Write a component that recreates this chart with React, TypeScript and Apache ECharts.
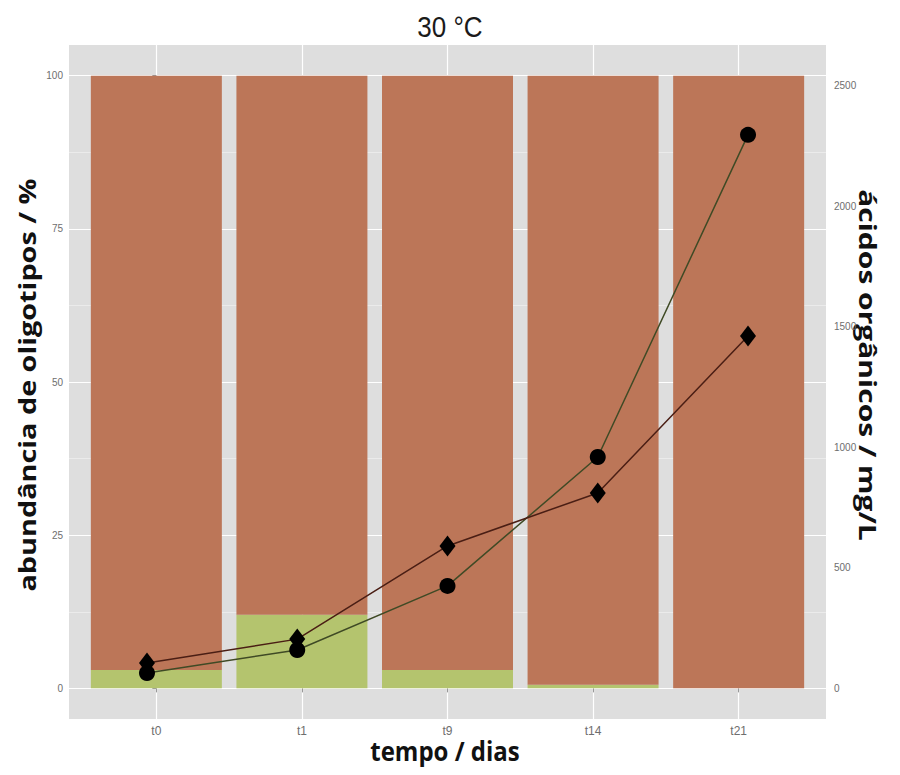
import React, { useEffect, useRef } from "react";
import * as echarts from "echarts";

const categories = ["t0", "t1", "t9", "t14", "t21"];
const greenShare = [3, 12, 3, 0.6, 0];
const brownShare = [97, 88, 97, 99.4, 100];
const acidCircle = [62, 158, 424, 959, 2297];
const acidDiamond = [104, 203, 590, 810, 1462];
const leftTicks = [0, 25, 50, 75, 100];
const leftMinor = [12.5, 37.5, 62.5, 87.5];
const rightTicks = [0, 500, 1000, 1500, 2000, 2500];

export default function App() {
  const ref = useRef<HTMLDivElement>(null);
  useEffect(() => {
    const chart = echarts.init(ref.current!, null, { renderer: "svg" });
    const idx = categories.map((_, i) => i);
    const labelStyle = { color: "#6e6e6e", fontSize: 10, fontFamily: "Liberation Sans" };
    const boldFont = "bold 24px 'Open Sans'";
    chart.setOption({
      animation: false,
      backgroundColor: "#ffffff",
      grid: {
        left: 69,
        right: 74,
        top: 45,
        bottom: 56,
        show: true,
        backgroundColor: "#DEDEDE",
        borderWidth: 0,
      },
      xAxis: [
        {
          type: "value",
          min: -0.6,
          max: 4.6,
          axisLine: { show: false },
          axisTick: { show: true, customValues: idx, length: 4, lineStyle: { color: "#999" } },
          axisLabel: {
            customValues: idx,
            formatter: (v: number) => categories[Math.round(v)],
            ...labelStyle,
            fontSize: 12,
            margin: 6,
          },
          splitLine: { show: true, lineStyle: { color: "#ffffff", width: 1.2 } },
        },
        { type: "value", min: -0.519, max: 4.519, show: false },
      ],
      yAxis: [
        {
          type: "value",
          min: -5,
          max: 105,
          position: "left",
          axisLine: { show: false },
          axisTick: { show: true, customValues: leftTicks, length: 4, lineStyle: { color: "#999" } },
          axisLabel: { customValues: leftTicks, ...labelStyle, margin: 6 },
          splitLine: { show: true, lineStyle: { color: "#ffffff", width: 1.2 } },
        },
        {
          type: "value",
          min: -128.7,
          max: 2670,
          position: "right",
          axisLine: { show: false },
          axisTick: { show: false, customValues: rightTicks },
          axisLabel: {
            customValues: rightTicks,
            formatter: (v: number) => String(v),
            ...labelStyle,
            margin: 8,
          },
          splitLine: { show: false },
        },
        {
          type: "value",
          min: -5,
          max: 105,
          position: "left",
          axisLine: { show: false },
          axisTick: { show: false, customValues: leftMinor },
          axisLabel: { show: false },
          splitLine: { show: true, lineStyle: { color: "#f4f4f4", width: 0.6 } },
        },
      ],
      series: [
        {
          type: "bar",
          name: "green",
          xAxisIndex: 0,
          yAxisIndex: 0,
          stack: "share",
          barWidth: 131,
          encode: { x: 1, y: 0 },
          data: greenShare.map((v, i) => [v, i]),
          itemStyle: { color: "#B4C46E" },
          silent: true,
        },
        {
          type: "bar",
          name: "brown",
          xAxisIndex: 0,
          yAxisIndex: 0,
          stack: "share",
          barWidth: 131,
          encode: { x: 1, y: 0 },
          data: brownShare.map((v, i) => [v, i]),
          itemStyle: { color: "#BC7658" },
          silent: true,
        },
        {
          type: "line",
          name: "circle",
          xAxisIndex: 1,
          yAxisIndex: 1,
          data: acidCircle.map((v, i) => [i, v]),
          symbol: "circle",
          symbolSize: 16,
          itemStyle: { color: "#000000" },
          lineStyle: { color: "#3f4a25", width: 1.5 },
          z: 5,
          silent: true,
        },
        {
          type: "line",
          name: "diamond",
          xAxisIndex: 1,
          yAxisIndex: 1,
          data: acidDiamond.map((v, i) => [i, v]),
          symbol: "diamond",
          symbolSize: [16, 21],
          itemStyle: { color: "#000000" },
          lineStyle: { color: "#4a1e14", width: 1.5 },
          z: 6,
          silent: true,
        },
      ],
      graphic: [
        {
          type: "text",
          x: 450,
          y: 27,
          scaleY: 1.15,
          style: {
            text: "30 °C",
            font: "26px 'Liberation Sans'",
            fill: "#1a1a1a",
            align: "center",
            verticalAlign: "middle",
          },
        },
        {
          type: "text",
          x: 27,
          y: 385,
          rotation: Math.PI / 2,
          scaleX: 1.2,
          style: {
            text: "abundância de oligotipos / %",
            font: boldFont,
            fill: "#111",
            align: "center",
            verticalAlign: "middle",
          },
        },
        {
          type: "text",
          x: 868,
          y: 365,
          rotation: -Math.PI / 2,
          scaleX: 1.25,
          style: {
            text: "ácidos orgânicos / mg/L",
            font: boldFont,
            fill: "#111",
            align: "center",
            verticalAlign: "middle",
          },
        },
        {
          type: "text",
          x: 445,
          y: 751,
          scaleY: 1.1,
          style: {
            text: "tempo / dias",
            font: boldFont,
            fill: "#111",
            align: "center",
            verticalAlign: "middle",
          },
        },
      ],
    });
    return () => chart.dispose();
  }, []);
  return (
    <div
      ref={ref}
      style={{ position: "absolute", left: 0, top: 0, width: 900, height: 775 }}
    />
  );
}
